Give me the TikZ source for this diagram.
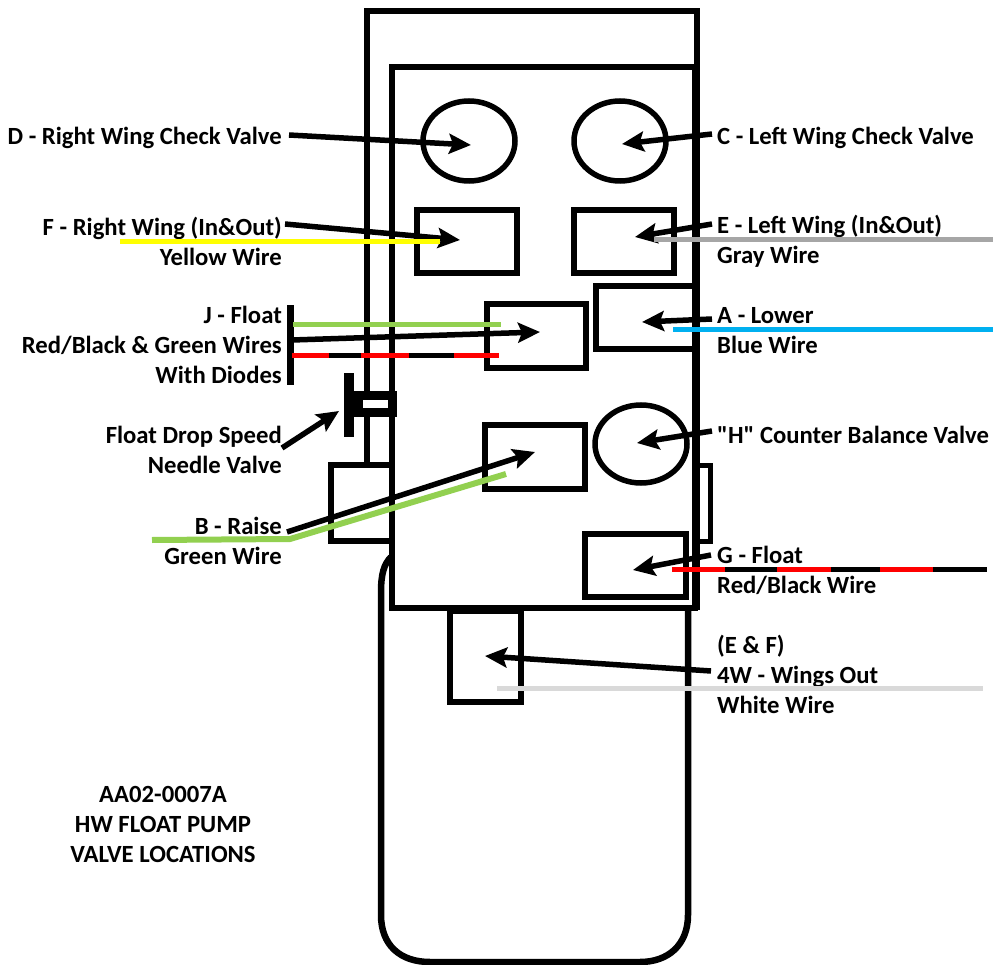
\documentclass[tikz,border=0pt]{standalone}
\usepackage{fontspec}
\setmainfont{Carlito}
\newfontfamily\plainquote{Carlito}
\usetikzlibrary{arrows.meta,shapes.geometric}
\definecolor{wgreen}{HTML}{92D050}
\definecolor{wyellow}{HTML}{FFFF00}
\definecolor{wgray}{HTML}{A6A6A6}
\definecolor{wblue}{HTML}{00B0F0}
\definecolor{wwhite}{HTML}{D9D9D9}
\definecolor{wred}{HTML}{FF0000}
\tikzset{
  shell/.style={draw=black,line width=6.5pt,line join=miter},
  valvebox/.style={rectangle,draw=black,line width=6pt,inner sep=0pt,outer sep=0pt},
  valvecirc/.style={ellipse,draw=black,line width=5.5pt,inner sep=0pt,outer sep=0pt},
  lead/.style={draw=black,line width=5.5pt,-{Stealth[length=22pt,width=20pt,inset=4pt]}},
  wire/.style={line width=5pt},
  lab/.style={font=\fontsize{24.7}{30}\bfseries\selectfont,inner sep=0pt,text=black},
  labl/.style={lab,anchor=west,align=left},
  labr/.style={lab,anchor=east,align=right},
  labc/.style={lab,align=center}
}
\begin{document}
\begin{tikzpicture}[x=1pt,y=-1pt]
\useasboundingbox (0,0) rectangle (993,965);
% housing
\draw[shell] (367,464) -- (367,11) -- (697,11) -- (697,610);
\draw[shell] (391,557) .. controls (384,564) and (381,574) .. (381,592) -- (381,915) .. controls (381,945) and (400,962) .. (430,962) -- (640,962) .. controls (668,962) and (688,945) .. (688,915) -- (688,610);
\draw[shell,line width=5.5pt] (391,465) -- (331,465) -- (331,541) -- (391,541);
\draw[shell,line width=5pt] (697,465) -- (710,465) -- (710,541) -- (697,541);
\draw[shell] (392,67) rectangle (695,608);
% valves
\node[valvecirc,minimum width=92pt,minimum height=80pt] (D) at (469,141) {};
\node[valvecirc,minimum width=92pt,minimum height=80pt] (C) at (620,141) {};
\node[valvecirc,minimum width=92pt,minimum height=78pt] (H) at (641,444) {};
\node[valvebox,minimum width=100pt,minimum height=63pt] (F) at (467,241.5) {};
\node[valvebox,minimum width=100pt,minimum height=63pt] (E) at (623.5,241.5) {};
\node[valvebox,minimum width=99pt,minimum height=64pt] (J) at (536.5,336) {};
\node[valvebox,minimum width=100pt,minimum height=63pt] (A) at (645.5,318) {};
\node[valvebox,minimum width=100pt,minimum height=64pt] (B) at (535,457) {};
\node[valvebox,minimum width=101pt,minimum height=63pt] (G) at (635.5,565.5) {};
\node[valvebox,minimum width=71pt,minimum height=91pt] (W) at (485,656.5) {};
% needle valve
\node[rectangle,draw=black,fill=white,line width=9pt,inner sep=0pt,outer sep=0pt,minimum width=34pt,minimum height=17pt] (needle) at (375.5,404) {};
\node[rectangle,fill=black,inner sep=0pt,outer sep=0pt,minimum width=10pt,minimum height=63pt] (needlebar) at (349,405) {};
\node[rectangle,fill=black,inner sep=0pt,outer sep=0pt,minimum width=7pt,minimum height=80pt] (jbar) at (290,345) {};
% labels
\node[labr] (lD) at (282,138) {D - Right Wing Check Valve};
\node[labr] (lF) at (282,241) {F - Right Wing (In\&Out)\\Yellow Wire};
\node[labr] (lJ) at (282,345) {J - Float\\Red/Black \& Green Wires\\With Diodes};
\node[labr] (lN) at (282,450) {Float Drop Speed\\Needle Valve};
\node[labr] (lB) at (282,541) {B - Raise\\Green Wire};
\node[labl] (lC) at (717,138) {C - Left Wing Check Valve};
\node[labl] (lE) at (717,241) {E - Left Wing (In\&Out)\\Gray Wire};
\node[labl] (lA) at (717,331) {A - Lower\\Blue Wire};
\node[labl] (lH) at (717,435) {{\plainquote\bfseries "H" Counter Balance Valve}};
\node[labl] (lG) at (717,570) {G - Float\\Red/Black Wire};
\node[labl] (lW) at (717,674) {(E \& F)\\4W - Wings Out\\White Wire};
\node[labc] (title) at (163,824) {AA02-0007A\\HW FLOAT PUMP\\VALVE LOCATIONS};
% connector ends
\coordinate (sD) at (289,135); \coordinate (eD) at (471,145);
\coordinate (sC) at (712,134); \coordinate (eC) at (622,144);
\coordinate (sF) at (285,224); \coordinate (eF) at (460,240);
\coordinate (sE) at (712,224); \coordinate (eE) at (635,237);
\coordinate (sJ) at (292,340); \coordinate (eJ) at (540,332);
\coordinate (sA) at (712,319); \coordinate (eA) at (642,322);
\coordinate (sH) at (712,431); \coordinate (eH) at (637,443);
\coordinate (sN) at (282,448); \coordinate (eN) at (339,411);
\coordinate (sB) at (287,532); \coordinate (eB) at (535,452);
\coordinate (sG) at (711,555); \coordinate (eG) at (633,570);
\coordinate (sW) at (711,671); \coordinate (eW) at (485,656);
\foreach \n in {D,C,F,E,J,A,H,N,B,G,W} \draw[lead] (s\n) -- (e\n);
% wires
\draw[wire,wyellow] (120,242) -- (440,242);
\draw[wire,wgray] (654,240) -- (993,240);
\draw[wire,wblue] (673,330) -- (993,330);
\draw[wire,wgreen] (293,325) -- (501,325);
\draw[wire,wgreen,line width=6pt] (152,540) -- (290,539) -- (506,474);
\draw[wire,wwhite] (497,688) -- (983,688);
\draw[wire,black] (292,356) -- (499,356);
\foreach \a/\b in {292/329,361/409,454/499} \draw[wire,wred] (\a,356) -- (\b,356);
\draw[wire,black] (672,569) -- (987,569);
\foreach \a/\b in {672/725,777/831,880/933} \draw[wire,wred] (\a,569) -- (\b,569);
\end{tikzpicture}
\end{document}
